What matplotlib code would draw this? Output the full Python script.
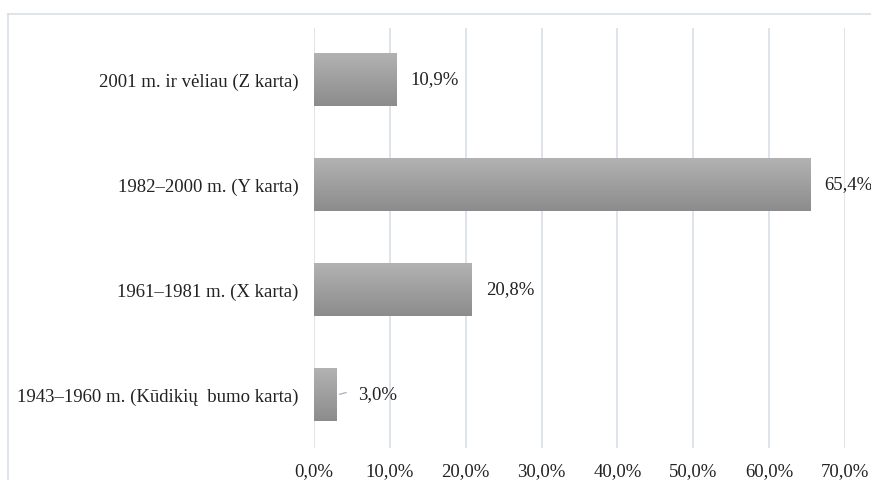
import numpy as np
import matplotlib.pyplot as plt
from matplotlib.lines import Line2D
from matplotlib.colors import LinearSegmentedColormap

categories = ["1943–1960 m. (Kūdikių  bumo karta)", "1961–1981 m. (X karta)",
              "1982–2000 m. (Y karta)", "2001 m. ir vėliau (Z karta)"]
values = [3.0, 20.8, 65.4, 10.9]
xticks = [0, 10, 20, 30, 40, 50, 60, 70]

plt.rcParams['font.family'] = ['Liberation Serif', 'DejaVu Serif']
grid_col = '#d9dee6'
txt_col = '#222222'
fs = 13.5

fig = plt.figure(figsize=(8.71, 4.8), dpi=100)
ax = fig.add_axes([314 / 871, 1 - 447.5 / 480, 531 / 871, 420 / 480])

# chart frame (only the top and left edges fall inside the image)
fig.add_artist(Line2D([8 / 871, 1], [1 - 14 / 480] * 2, color=grid_col, lw=1.2))
fig.add_artist(Line2D([8 / 871] * 2, [0, 1 - 14 / 480], color=grid_col, lw=1.2))

bar_cmap = LinearSegmentedColormap.from_list('bar', ['#8c8c8c', '#b2b2b2'])
y = np.arange(len(categories))
h = 0.5
grad = np.linspace(0, 1, 64).reshape(-1, 1)
for yi, v in zip(y, values):
    # vertical gradient, light on top
    ax.imshow(grad, cmap=bar_cmap, aspect='auto', origin='lower',
              extent=[0, v, yi - h / 2, yi + h / 2], zorder=2)
    label = f"{v:.1f}%".replace('.', ',')
    if v < 5:
        ax.annotate('', xy=(v, yi), xytext=(v + 1.6, yi + 0.03),
                    arrowprops=dict(arrowstyle='-', color='#a9b6c6', lw=1))
        ax.annotate(label, (v, yi), xytext=(15, 0), textcoords='offset points',
                    va='center', ha='left', fontsize=fs, color=txt_col)
    else:
        ax.annotate(label, (v, yi), xytext=(10, 0), textcoords='offset points',
                    va='center', ha='left', fontsize=fs, color=txt_col,
                    annotation_clip=False)

ax.set_xlim(0, 70)
ax.set_ylim(-0.5, len(categories) - 0.5)
ax.set_yticks(y)
ax.set_yticklabels(categories, fontsize=fs, color=txt_col)
ax.set_xticks(xticks)
ax.set_xticklabels([f"{t:.1f}%".replace('.', ',') for t in xticks],
                   fontsize=fs, color=txt_col)
ax.tick_params(axis='both', length=0)
ax.tick_params(axis='y', pad=11)
ax.tick_params(axis='x', pad=11)
ax.grid(axis='x', color=grid_col, lw=1.2, zorder=0)
ax.set_axisbelow(True)
for s in ax.spines.values():
    s.set_visible(False)

fig.savefig('out.png', dpi=100)
